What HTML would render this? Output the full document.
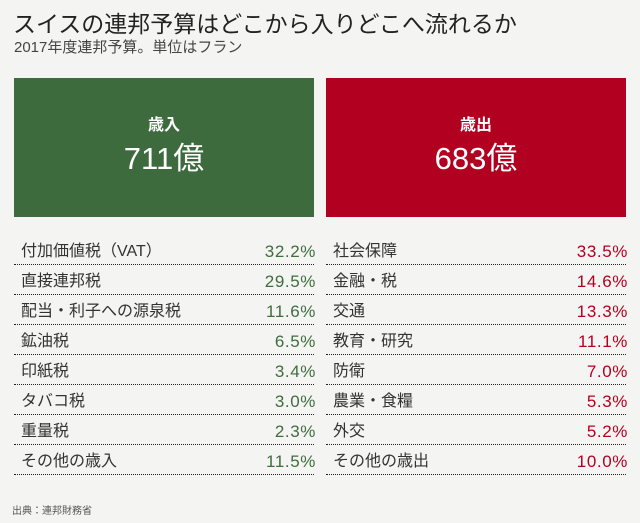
<!DOCTYPE html>
<html><head><meta charset="utf-8"><style>
*{margin:0;padding:0;box-sizing:border-box}
body{width:640px;height:523px;background:#f4f4f2;font-family:"Liberation Sans","Noto Sans CJK JP",sans-serif;color:#333;position:relative;overflow:hidden}
.t{position:absolute;left:13px;top:5px;font-size:23px;color:#222;white-space:nowrap}
.s{position:absolute;left:14px;top:36px;font-size:15px;color:#444;white-space:nowrap}
.box{position:absolute;top:78px;width:300px;height:139px;color:#fff;text-align:center}
.box .a{position:absolute;left:0;right:0;top:38px;font-size:16px;font-weight:bold;line-height:20px}
.box .b{position:absolute;left:0;right:0;top:63px;font-size:31px;line-height:36px}
.col{position:absolute;top:235px;width:300px}
.row{height:30px;border-bottom:1px dotted #222;position:relative;font-size:16px;color:#333}
.row span{position:absolute;top:2px;line-height:30px;height:28px}
.row span:first-child{left:7px}
.row span:last-child{right:-2px;font-size:17px;letter-spacing:0.6px}
.g span:last-child{color:#3f6d3f}
.r span:last-child{color:#b40020}
.src{position:absolute;left:12px;top:502px;font-size:10px;color:#555}
</style></head><body>
<div class="t">スイスの連邦予算はどこから入りどこへ流れるか</div>
<div class="s">2017年度連邦予算。単位はフラン</div>
<div class="box" style="left:14px;background:#3e6b3e"><div class="a">歳入</div><div class="b">711億</div></div>
<div class="box" style="left:326px;background:#b20020"><div class="a">歳出</div><div class="b">683億</div></div>
<div class="col g" style="left:14px">
<div class="row"><span>付加価値税（VAT）</span><span>32.2%</span></div>
<div class="row"><span>直接連邦税</span><span>29.5%</span></div>
<div class="row"><span>配当・利子への源泉税</span><span>11.6%</span></div>
<div class="row"><span>鉱油税</span><span>6.5%</span></div>
<div class="row"><span>印紙税</span><span>3.4%</span></div>
<div class="row"><span>タバコ税</span><span>3.0%</span></div>
<div class="row"><span>重量税</span><span>2.3%</span></div>
<div class="row"><span>その他の歳入</span><span>11.5%</span></div>
</div>
<div class="col r" style="left:326px">
<div class="row"><span>社会保障</span><span>33.5%</span></div>
<div class="row"><span>金融・税</span><span>14.6%</span></div>
<div class="row"><span>交通</span><span>13.3%</span></div>
<div class="row"><span>教育・研究</span><span>11.1%</span></div>
<div class="row"><span>防衛</span><span>7.0%</span></div>
<div class="row"><span>農業・食糧</span><span>5.3%</span></div>
<div class="row"><span>外交</span><span>5.2%</span></div>
<div class="row"><span>その他の歳出</span><span>10.0%</span></div>
</div>
<div class="src">出典：連邦財務省</div>
</body></html>
